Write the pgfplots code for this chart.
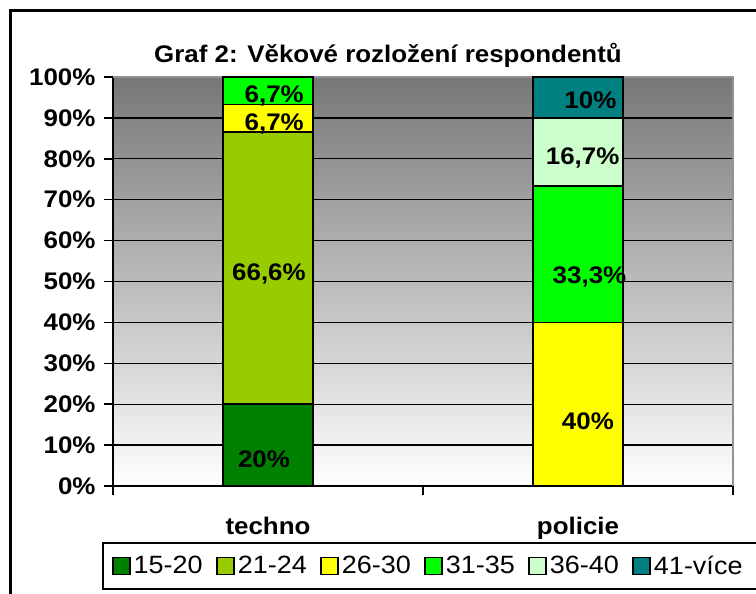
\documentclass[border=0pt]{standalone}
\usepackage{pgfplots}
\pgfplotsset{compat=1.18}
\usepackage{fontspec}
\setmainfont{Liberation Sans}[FakeStretch=1.08]
\definecolor{cA}{HTML}{008000}
\definecolor{cB}{HTML}{99CC00}
\definecolor{cC}{HTML}{FFFF00}
\definecolor{cD}{HTML}{00FF00}
\definecolor{cE}{HTML}{CCFFCC}
\definecolor{cF}{HTML}{008080}
\definecolor{bgtop}{HTML}{777777}
\newcommand{\bigf}{\fontsize{24}{28}\selectfont}
\tikzset{dl/.style={font=\bigf\bfseries, anchor=base, inner sep=0pt}}
\begin{document}
\begin{tikzpicture}[x=1pt,y=1pt]
\path[use as bounding box] (0,0) rectangle (756,594);
\draw[line width=3pt] (10,-20) -- (10,583) -- (790,583);
\draw[line width=1.8pt] (790,5) -- (103,5) -- (103,51) -- (790,51);
\node[font=\bigf\bfseries, anchor=base] at (388,531) {Graf 2: Věkové rozložení respondentů};
\begin{axis}[at={(113pt,108pt)}, anchor=south west, scale only axis,
  width=620pt, height=409pt,
  ybar stacked, bar width=90pt, clip=false,
  xmin=-0.5, xmax=1.5, ymin=0, ymax=100,
  axis lines=left, axis line style={-, line width=1.5pt, black},
  xtick={-0.5,0.5,1.5}, xticklabels={},
  extra x ticks={0,1}, extra x tick labels={techno,policie},
  extra x tick style={major tick length=0pt, xticklabel style={anchor=base, yshift=-49pt}},
  ytick={0,10,...,100}, yticklabel={\pgfmathprintnumber{\tick}\%},
  yticklabel style={xshift=-5pt},
  ymajorgrids, major grid style={black, line width=1.3pt},
  tick align=outside, major tick length=9pt, tick style={black, line width=1.5pt},
  ticklabel style={font=\bigf\bfseries},
  /pgf/number format/assume math mode=true,
  axis background/.style={top color=bgtop, bottom color=white},
  legend columns=6,
  legend image code/.code={\draw[#1, line width=1.5pt] (0pt,-8.5pt) rectangle (17pt,8.5pt);},
  legend style={at={(axis description cs:-0.0016,-0.1956)}, anchor=west, draw=none, fill=none,
    font=\fontsize{25}{28}\selectfont, inner sep=0pt, nodes={inner xsep=3pt, inner ysep=0pt},
    /tikz/every even column/.append style={column sep=10.5pt}},
]
\addplot[fill=cA, draw=black, line width=1.5pt] coordinates {(0,20) (1,0)};
\addplot[fill=cB, draw=black, line width=1.5pt] coordinates {(0,66.6) (1,0)};
\addplot[fill=cC, draw=black, line width=1.5pt] coordinates {(0,6.7) (1,40)};
\addplot[fill=cD, draw=black, line width=1.5pt] coordinates {(0,6.7) (1,33.3)};
\addplot[fill=cE, draw=black, line width=1.5pt] coordinates {(0,0) (1,16.7)};
\addplot[fill=cF, draw=black, line width=1.5pt] coordinates {(0,0) (1,10)};
\legend{15-20,21-24,26-30,31-35,36-40,41-více}
\draw[bgtop!80, line width=2pt] (rel axis cs:0,1) -- (rel axis cs:1,1) -- (rel axis cs:1,0);
\coordinate (L1) at (axis cs:-0.013,4.4);
\coordinate (L2) at (axis cs:0.003,50.2);
\coordinate (L3) at (axis cs:0.02,86.8);
\coordinate (L4) at (axis cs:0.02,93.7);
\coordinate (L5) at (axis cs:1.032,13.9);
\coordinate (L6) at (axis cs:1.037,49.4);
\coordinate (L7) at (axis cs:1.015,78.5);
\coordinate (L8) at (axis cs:1.04,92.4);
\end{axis}
\node[dl] at (L1) {20\%};
\node[dl] at (L2) {66,6\%};
\node[dl] at (L3) {6,7\%};
\node[dl] at (L4) {6,7\%};
\node[dl] at (L5) {40\%};
\node[dl] at (L6) {33,3\%};
\node[dl] at (L7) {16,7\%};
\node[dl] at (L8) {10\%};
\end{tikzpicture}
\end{document}
